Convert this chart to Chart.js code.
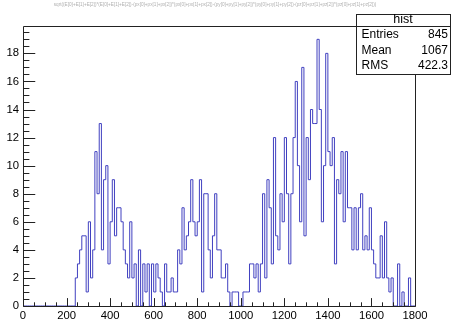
<!DOCTYPE html>
<html>
<head>
<meta charset="utf-8">
<script src="https://cdn.jsdelivr.net/npm/chart.js@4/dist/chart.umd.min.js"></script>
<style>
  html, body { margin: 0; padding: 0; background: #fff; }
</style>
</head>
<body>
<canvas id="hist" width="451" height="323"></canvas>
<script>
// 180 bins of width 10 from 0 to 1800
const binWidth = 10;
const counts = [
  0, 0, 0, 0, 0, 0, 0, 0, 0, 0,        // 0-90
  0, 0, 0, 0, 0, 0, 0, 0, 0, 0,        // 100-190
  0, 0, 0, 0, 2, 3, 4, 5, 5, 1,        // 200-290
  6, 2, 4, 11, 8, 13, 4, 9, 10, 3,     // 300-390
  6, 9, 5, 7, 7, 6, 4, 3, 2, 6,        // 400-490
  2, 3, 0, 4, 0, 3, 1, 3, 0, 3,        // 500-590
  1, 3, 2, 1, 0, 3, 1, 1, 2, 1,        // 600-690
  1, 4, 3, 7, 4, 5, 6, 9, 6, 5,        // 700-790
  6, 9, 1, 8, 8, 4, 2, 5, 8, 4,        // 800-890
  4, 2, 2, 3, 1, 0, 1, 1, 1, 0,        // 900-990
  0, 1, 1, 1, 3, 3, 2, 3, 1, 3,        // 1000-1090
  8, 2, 9, 7, 3, 12, 5, 4, 8, 6,       // 1100-1190
  12, 8, 3, 8, 12, 16, 10, 6, 17, 5,   // 1200-1290
  12, 9, 14, 13, 13, 19, 14, 6, 10, 18, // 1300-1390
  11, 10, 12, 3, 9, 8, 11, 6, 11, 7,   // 1400-1490
  7, 4, 7, 4, 7, 8, 4, 5, 4, 7,        // 1500-1590
  4, 3, 2, 2, 5, 2, 6, 2, 1, 2,        // 1600-1690
  0, 0, 3, 0, 1, 0, 0, 2, 0, 0         // 1700-1790
];
const xTickLabels = [0, 200, 400, 600, 800, 1000, 1200, 1400, 1600, 1800];
const yTickLabels = [0, 2, 4, 6, 8, 10, 12, 14, 16, 18];
const yMax = 19.95;

const histName = 'hist';
const statLabels = ['Entries', 'Mean', 'RMS'];
const statValues = ['845', '1067', '422.3'];
const drawExpr = 'sqrt((E[0]+E[1]+E[2])*(E[0]+E[1]+E[2])-(px[0]+px[1]+px[2])*(px[0]+px[1]+px[2])-(py[0]+py[1]+py[2])*(py[0]+py[1]+py[2])-(pz[0]+pz[1]+pz[2])*(pz[0]+pz[1]+pz[2]))';

const lineColor = 'rgb(64, 64, 192)';
const axisFont = { family: 'Liberation Sans, Arial, sans-serif', size: 11.3 };

// each bin becomes a point at its low edge; stepped line holds the value to the next edge
const points = counts.map((c, i) => ({ x: i * binWidth, y: c }));
points.push({ x: counts.length * binWidth, y: 0 });

// ROOT style frame: ticks drawn inward, title on top, stats box top right
const rootFrame = {
  id: 'rootFrame',
  afterDraw(chart) {
    const { ctx, chartArea: a, scales } = chart;
    const xs = scales.x, ys = scales.y;
    const L = Math.round(a.left) + 0.5, R = Math.round(a.right) + 0.5;
    const T = Math.round(a.top) + 0.5, B = Math.round(a.bottom) + 0.5;

    ctx.save();
    ctx.strokeStyle = '#222';
    ctx.lineWidth = 1;
    ctx.beginPath();
    ctx.moveTo(L, T); ctx.lineTo(R, T); ctx.lineTo(R, B); ctx.lineTo(L, B); ctx.closePath();

    const h = a.bottom - a.top, w = a.right - a.left;
    for (let v = 0; v <= 1800; v += 50) {
      const px = Math.round(xs.getPixelForValue(v)) + 0.5;
      const len = v % 200 === 0 ? 0.03 * h : 0.015 * h;
      ctx.moveTo(px, B); ctx.lineTo(px, B - len);
    }
    for (let v = 0; v < yMax; v += 0.5) {
      const py = Math.round(ys.getPixelForValue(v)) + 0.5;
      const len = v % 2 === 0 ? 0.03 * w : 0.015 * w;
      ctx.moveTo(L, py); ctx.lineTo(L + len, py);
    }
    ctx.stroke();

    // tiny title across the top
    ctx.fillStyle = '#b0b0b0';
    ctx.font = '4px Liberation Sans, Arial, sans-serif';
    const tw = ctx.measureText(drawExpr).width;
    ctx.font = (4 * 324 / tw).toFixed(2) + 'px Liberation Sans, Arial, sans-serif';
    ctx.textAlign = 'center';
    ctx.textBaseline = 'middle';
    ctx.fillText(drawExpr, 215, 4.5);

    // stats box
    const bx = 356.5, by = 14.5, bw = 94, bh = 60;
    ctx.fillStyle = '#fff';
    ctx.fillRect(bx, by, bw, bh);
    ctx.strokeStyle = '#222';
    ctx.strokeRect(bx, by, bw, bh);
    ctx.beginPath();
    ctx.moveTo(bx, 26.5); ctx.lineTo(bx + bw, 26.5);
    ctx.stroke();

    ctx.fillStyle = '#000';
    ctx.font = '12.5px Liberation Sans, Arial, sans-serif';
    ctx.textAlign = 'center';
    ctx.fillText(histName, 403, 20);
    ctx.font = '12px Liberation Sans, Arial, sans-serif';
    const rowY = [34.5, 51, 66];
    statLabels.forEach((lab, i) => {
      ctx.textAlign = 'left';
      ctx.fillText(lab, 361.5, rowY[i]);
      ctx.textAlign = 'right';
      ctx.fillText(statValues[i], 448, rowY[i]);
    });
    ctx.restore();
  }
};

new Chart(document.getElementById('hist'), {
  type: 'line',
  data: {
    datasets: [{
      data: points,
      stepped: true,
      borderColor: lineColor,
      borderWidth: 1,
      pointRadius: 0,
      fill: false
    }]
  },
  options: {
    responsive: false,
    animation: false,
    layout: { padding: { top: 26, right: 36, left: 0, bottom: 0 } },
    plugins: { legend: { display: false }, tooltip: { enabled: false } },
    scales: {
      x: {
        type: 'linear',
        min: 0,
        max: 1800,
        grid: { display: false, drawTicks: false },
        border: { display: false },
        afterBuildTicks(s) { s.ticks = xTickLabels.map(v => ({ value: v })); },
        afterFit(s) { s.height = 17; },
        ticks: {
          padding: 3,
          maxRotation: 0,
          autoSkip: false,
          color: '#000',
          font: axisFont,
          callback: v => String(v)
        }
      },
      y: {
        min: 0,
        max: yMax,
        grid: { display: false, drawTicks: false },
        border: { display: false },
        afterBuildTicks(s) { s.ticks = yTickLabels.map(v => ({ value: v })); },
        afterFit(s) { s.width = 23; },
        ticks: {
          padding: 4,
          color: '#000',
          font: axisFont,
          callback: v => String(v)
        }
      }
    }
  },
  plugins: [rootFrame]
});
</script>
</body>
</html>
